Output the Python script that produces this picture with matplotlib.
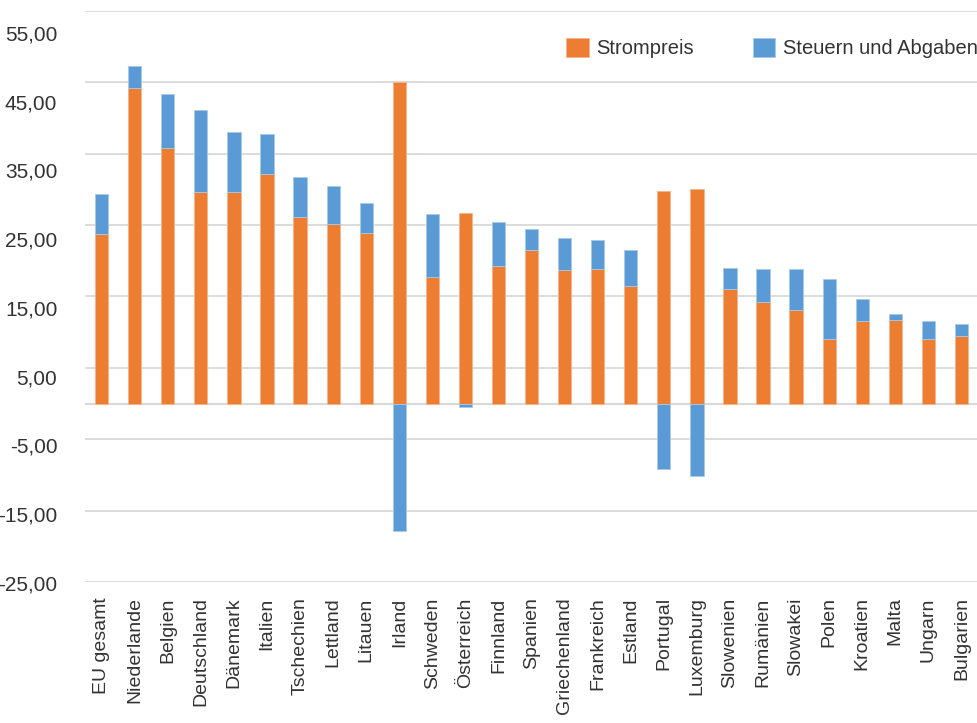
import matplotlib.pyplot as plt
from matplotlib.transforms import ScaledTranslation
import numpy as np

laender = ["EU gesamt", "Niederlande", "Belgien", "Deutschland", "Dänemark", "Italien",
           "Tschechien", "Lettland", "Litauen", "Irland", "Schweden", "Österreich",
           "Finnland", "Spanien", "Griechenland", "Frankreich", "Estland", "Portugal",
           "Luxemburg", "Slowenien", "Rumänien", "Slowakei", "Polen", "Kroatien",
           "Malta", "Ungarn", "Bulgarien"]

strompreis = [23.8, 44.2, 35.8, 29.6, 29.6, 32.2, 26.1, 25.2, 23.9, 45.0, 17.7, 26.7,
              19.3, 21.5, 18.7, 18.8, 16.5, 29.7, 30.0, 16.0, 14.2, 13.1, 9.0, 11.5,
              11.7, 9.0, 9.4]

steuern = [5.5, 3.1, 7.6, 11.5, 8.4, 5.5, 5.6, 5.2, 4.2, -17.9, 8.8, -0.5,
           6.1, 2.9, 4.5, 4.1, 5.0, -9.2, -10.1, 3.0, 4.6, 5.7, 8.5, 3.2,
           0.8, 2.5, 1.8]

y_ticks = [55, 45, 35, 25, 15, 5, -5, -15, -25]

ORANGE = "#ED7D31"
BLAU = "#5B9BD5"
GRID = "#d9d9d9"
TEXT = "#333333"

plt.rcParams['font.family'] = ['Liberation Sans', 'DejaVu Sans']

fig = plt.figure(figsize=(9.78, 7.23), dpi=100)
ax = fig.add_axes([0.087, 0.195, 0.913, 0.79])

x = np.arange(len(laender))
orange = np.array(strompreis)
blau = np.array(steuern)
# negative Steuern werden ab der Null nach unten gestapelt (wie in Excel)
unten = np.where(blau >= 0, orange, 0)

ax.bar(x, orange, width=0.4, color=ORANGE, edgecolor="#f5b58c", linewidth=0.6,
       label="Strompreis", zorder=3)
ax.bar(x, blau, width=0.4, bottom=unten, color=BLAU, edgecolor="#a9c9ea", linewidth=0.6,
       label="Steuern und Abgaben", zorder=3)

ax.set_xlim(-0.5, len(laender) - 0.5)
ax.set_ylim(-25, 55)
ax.set_yticks(y_ticks)
ax.set_yticklabels(["{:.2f}".format(v).replace(".", ",") for v in y_ticks])
ax.yaxis.grid(True, color=GRID, linewidth=1.3, zorder=0)
ax.axhline(0, color=GRID, linewidth=1.5, zorder=2)

ax.set_xticks(x)
ax.set_xticklabels(laender, rotation=90)

for s in ax.spines.values():
    s.set_visible(False)
ax.tick_params(axis="both", length=0, labelcolor=TEXT)
ax.tick_params(axis="y", pad=20, labelsize=15)
ax.tick_params(axis="x", pad=11, labelsize=14)

# im Original sitzen die y-Beschriftungen etwas enger als die Gitterlinien
n = len(y_ticks)
for i, lbl in enumerate(ax.get_yticklabels()):
    rang = sorted(y_ticks, reverse=True).index(y_ticks[i])
    d = 22 - 21 * rang / (n - 1)
    lbl.set_transform(lbl.get_transform() + ScaledTranslation(0, -d / 100, fig.dpi_scale_trans))

ax.legend(loc="upper right", bbox_to_anchor=(1.02, 0.985), ncol=2, frameon=False,
          fontsize=14.5, handlelength=1.1, handleheight=1.1, handletextpad=0.4,
          columnspacing=2.9, labelcolor=TEXT)

fig.savefig("out.png", dpi=100)
